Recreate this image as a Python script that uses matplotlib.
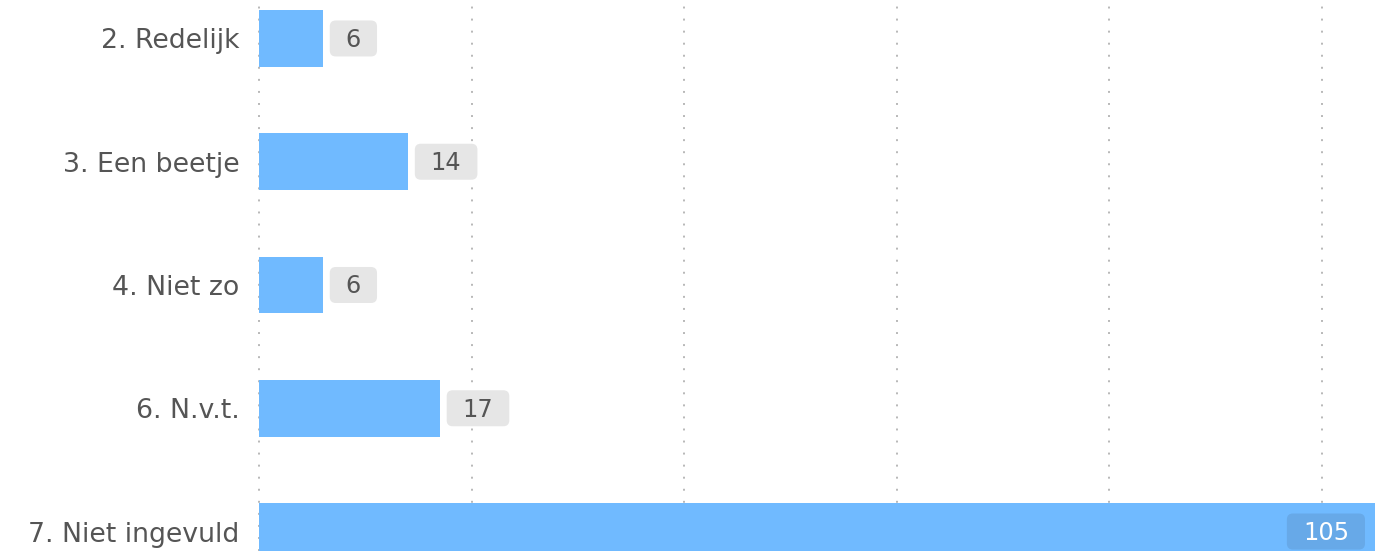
import matplotlib.pyplot as plt
from matplotlib.patches import FancyBboxPatch

# data ---------------------------------------------------------------
categories = ["2. Redelijk", "3. Een beetje", "4. Niet zo", "6. N.v.t.", "7. Niet ingevuld"]
counts = [6, 14, 6, 17, 105]
grid_ticks = [0, 20, 40, 60, 80, 100]

BAR_COLOR = "#70baff"
TEXT_COLOR = "#555555"

fig = plt.figure(figsize=(13.92, 5.51), dpi=100)
ax = fig.add_axes([259 / 1392, 0, 1 - 259 / 1392, 1])

ypos = list(range(len(categories)))
ax.barh(ypos, counts, height=0.46, color=BAR_COLOR, zorder=2)

# chart is cropped at the bottom, last bar runs off the figure
ax.set_ylim(4.158, -0.312)
ax.set_xlim(0, 106.6)

ax.set_yticks(ypos)
ax.set_yticklabels(categories, fontsize=19.3, color=TEXT_COLOR)
ax.tick_params(axis="y", length=0, pad=14)
ax.set_xticks(grid_ticks)
ax.tick_params(axis="x", length=0, labelbottom=False)
ax.grid(axis="x", color="#b8b8b8", linewidth=1.4, linestyle=(0, (1, 5.2)), zorder=0)
for gl in ax.get_xgridlines():
    gl.set_clip_on(False)  # keep the dotted line at 0 fully visible
for s in ax.spines.values():
    s.set_visible(False)

# value labels in rounded boxes ---------------------------------------
fig.canvas.draw()
renderer = fig.canvas.get_renderer()
xmax = max(counts)
texts = []
for y, v in zip(ypos, counts):
    inside = v == xmax
    if inside:
        t = ax.annotate(str(v), xy=(v, y), xytext=(-26, 1), textcoords="offset pixels",
                        ha="right", va="center_baseline", fontsize=17.3, color="white", zorder=5)
    else:
        t = ax.annotate(str(v), xy=(v, y), xytext=(23, 1), textcoords="offset pixels",
                        ha="left", va="center_baseline", fontsize=17.3, color=TEXT_COLOR, zorder=5)
    texts.append((t, inside, y))

fig.canvas.draw()
for t, inside, y in texts:
    ext = t.get_window_extent(renderer)
    yc = ax.transData.transform((0, y))[1]
    w = ext.width + 32
    h = 36
    box = FancyBboxPatch((ext.x0 - 16, yc - h / 2), w, h,
                         boxstyle="round,pad=0,rounding_size=6",
                         transform=None, linewidth=0, zorder=4, clip_on=False,
                         facecolor="#67a9e8" if inside else "#e6e6e6")
    ax.add_patch(box)

fig.savefig("out.png", dpi=100)
